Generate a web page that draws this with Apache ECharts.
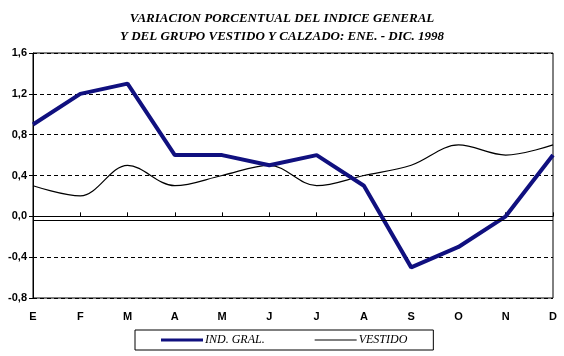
<!DOCTYPE html>
<html>
<head>
<meta charset="utf-8">
<script src="https://cdn.jsdelivr.net/npm/echarts@6/dist/echarts.min.js"></script>
<style>html,body{margin:0;padding:0;background:#fff;}#c{width:564px;height:356px;}</style>
</head>
<body>
<div id="c"></div>
<script>
var months = ['E','F','M','A','M','J','J','A','S','O','N','D'];
var indGral = [0.9, 1.2, 1.3, 0.6, 0.6, 0.5, 0.6, 0.3, -0.5, -0.3, 0.0, 0.6];
var vestido = [0.3, 0.2, 0.5, 0.3, 0.4, 0.5, 0.3, 0.4, 0.5, 0.7, 0.6, 0.7];
var yTicks = { min: -0.8, max: 1.6, interval: 0.4 };
var baseLineValue = -0.04;

var chart = echarts.init(document.getElementById('c'));
chart.setOption({
  animation: false,
  backgroundColor: '#fff',
  title: {
    text: 'VARIACION PORCENTUAL DEL INDICE GENERAL\nY DEL GRUPO VESTIDO Y CALZADO: ENE. - DIC. 1998',
    left: 'center',
    top: 5,
    textStyle: {
      fontFamily: 'Liberation Serif',
      fontStyle: 'italic',
      fontWeight: 'bold',
      fontSize: 13,
      lineHeight: 18,
      color: '#000'
    }
  },
  grid: {
    left: 33, right: 11, top: 53, bottom: 58,
    show: true, borderColor: '#000', borderWidth: 1
  },
  legend: {
    left: 135, top: 330,
    padding: [4, 26, 4, 26],
    itemWidth: 42, itemHeight: 8, itemGap: 50,
    borderColor: '#000', borderWidth: 1,
    textStyle: { fontFamily: 'Liberation Serif', fontStyle: 'italic', fontSize: 12, color: '#000', padding: [0,0,0,-3] },
    data: [
      { name: 'IND. GRAL.', icon: 'path://M0,0 L42,0 L42,3 L0,3 Z', itemStyle: { color: '#10107f' } },
      { name: 'VESTIDO', icon: 'path://M0,0 L42,0 L42,1 L0,1 Z', itemStyle: { color: '#000' } }
    ]
  },
  xAxis: {
    type: 'category',
    data: months,
    boundaryGap: false,
    axisLine: { lineStyle: { color: '#000', width: 1 } },
    axisTick: { inside: true, length: 4, lineStyle: { color: '#000' } },
    axisLabel: { fontFamily: 'Liberation Sans', fontWeight: 'bold', fontSize: 11, color: '#000', margin: 13 },
    splitLine: { show: false }
  },
  yAxis: {
    type: 'value',
    min: yTicks.min, max: yTicks.max, interval: yTicks.interval,
    axisLine: { show: true, lineStyle: { color: '#000', width: 1 } },
    axisTick: { show: true, length: 4, lineStyle: { color: '#000' } },
    axisLabel: {
      fontFamily: 'Liberation Sans', fontWeight: 'bold', fontSize: 11, color: '#000', margin: 6,
      formatter: function (v) { return (Math.round(v * 10) / 10).toFixed(1).replace('.', ','); }
    },
    splitLine: { show: true, lineStyle: { color: '#000', type: [4, 3], width: 1 } }
  },
  series: [
    {
      name: 'VESTIDO',
      type: 'line',
      data: vestido,
      smooth: 0.35,
      symbol: 'none',
      lineStyle: { color: '#000', width: 1.2 },
      markLine: {
        silent: true, symbol: 'none', label: { show: false },
        lineStyle: { color: '#000', type: 'solid', width: 1 },
        data: [{ yAxis: baseLineValue }]
      },
      z: 3
    },
    {
      name: 'IND. GRAL.',
      type: 'line',
      data: indGral,
      symbol: 'none',
      lineStyle: { color: '#10107f', width: 4 },
      z: 4
    }
  ]
});
</script>
</body>
</html>
